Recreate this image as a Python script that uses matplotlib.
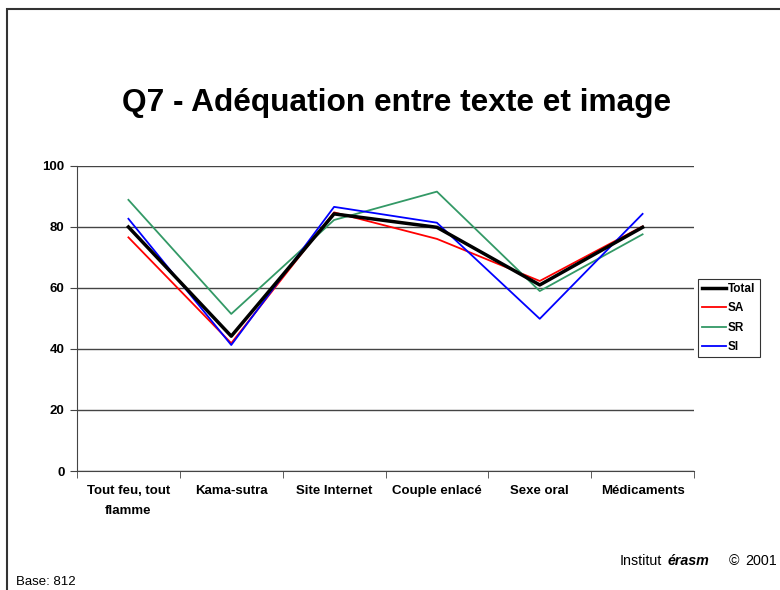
import matplotlib
matplotlib.use("Agg")
import matplotlib.pyplot as plt
from matplotlib.patches import Rectangle
import numpy as np

plt.rcParams['font.family'] = ['Liberation Sans', 'DejaVu Sans']

categories = ["Tout feu, tout\nflamme", "Kama-sutra", "Site Internet", "Couple enlacé", "Sexe oral", "Médicaments"]
total = [80.0, 44.2, 84.3, 79.9, 61.0, 79.9]
sa = [76.6, 41.9, 84.8, 76.1, 62.3, 80.2]
sr = [88.9, 51.5, 82.3, 91.6, 59.0, 77.6]
si = [82.7, 41.3, 86.6, 81.4, 49.9, 84.3]
yticks = [0, 20, 40, 60, 80, 100]

fig = plt.figure(figsize=(7.8, 5.9), dpi=100)
fig.patches.append(Rectangle((7/780, -0.1), 2, 1.1 - 9/590, transform=fig.transFigure,
                             fill=False, edgecolor='#333333', linewidth=1.5))
ax = fig.add_axes([77/780, 1 - 471/590, (694 - 77)/780, (471 - 166)/590])

x = np.arange(len(categories))
ax.plot(x, sa, color='#ff0000', lw=1.3, label='SA', zorder=3)
ax.plot(x, sr, color='#339966', lw=1.3, label='SR', zorder=3)
ax.plot(x, si, color='#0000ff', lw=1.3, label='SI', zorder=3)
ax.plot(x, total, color='black', lw=2.5, label='Total', zorder=4)

ax.set_xlim(-0.5, len(categories) - 0.5)
ax.set_ylim(0, 100)
ax.set_yticks(yticks)
ax.set_yticklabels([str(v) for v in yticks], fontsize=9.5, fontweight='bold')
ax.yaxis.grid(True, color='#444444', lw=1)
ax.set_axisbelow(True)
for s in ['top', 'right']:
    ax.spines[s].set_visible(False)
ax.spines['left'].set_color('#444444')
ax.spines['bottom'].set_color('#444444')
ax.tick_params(axis='y', length=5, color='#444444', pad=4)

ax.set_xticks(x)
ax.set_xticklabels(categories, fontsize=9.5, fontweight='bold', linespacing=1.95)
ax.tick_params(axis='x', which='major', length=0, pad=10)
ax.set_xticks(np.arange(-0.5, len(categories)), minor=True)
ax.tick_params(axis='x', which='minor', length=5, color='#444444')

handles, labels = ax.get_legend_handles_labels()
order = [3, 0, 1, 2]
leg = fig.legend([handles[i] for i in order], [labels[i] for i in order],
                 loc='upper left', bbox_to_anchor=(698/780, 1 - 279/590),
                 prop={'size': 8.5, 'weight': 'bold'}, frameon=True, fancybox=False,
                 edgecolor='black', handlelength=2.0, handletextpad=0.2,
                 borderpad=0.35, labelspacing=0.62, borderaxespad=0)
leg.get_frame().set_linewidth(0.8)

fig.text(397/780, 1 - 103/590, "Q7 - Adéquation entre texte et image", ha='center', va='center',
         fontsize=22.8, fontweight='bold')
fig.text(16/780, 1 - 582/590, "Base: 812", ha='left', va='center', fontsize=9.5)

yb = 1 - 565/590
fig.text(620/780, yb, "Institut", ha='left', va='baseline', fontsize=10.3)
fig.text(668/780, yb, "érasm", ha='left', va='baseline', fontsize=10.3,
         fontweight='bold', style='italic')
fig.text(729/780, yb, "©", ha='left', va='baseline', fontsize=10.3)
fig.text(777/780, yb, "2001", ha='right', va='baseline', fontsize=10.3)

fig.savefig("out.png", dpi=100)
